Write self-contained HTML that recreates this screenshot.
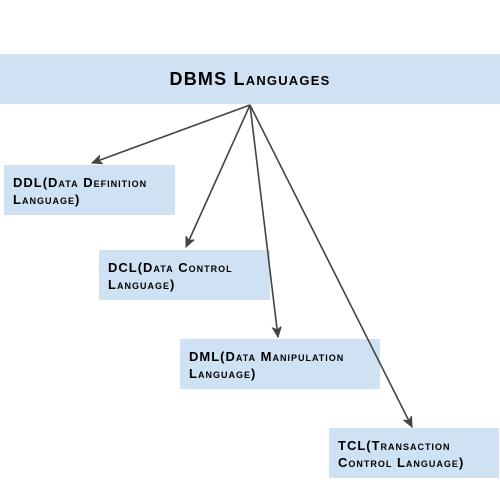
<!DOCTYPE html>
<html><head><style>
body{margin:0;width:500px;height:500px;background:#fff;position:relative;overflow:hidden;font-family:"Liberation Sans",sans-serif;}
.b{position:absolute;background:#cfe2f3;}
.t{position:absolute;font-weight:bold;font-variant:small-caps;color:#000;font-size:13px;line-height:17px;letter-spacing:1px;}
</style></head><body>
<div class="b" style="left:0;top:54px;width:500px;height:50px"></div>
<div class="t" style="left:0;width:500px;top:68px;text-align:center;font-size:18px;line-height:22px;letter-spacing:1.2px">DBMS Languages</div>
<div class="b" style="left:4px;top:165px;width:171px;height:50px"></div>
<div class="t" style="left:13px;top:174px">DDL(Data Definition<br>Language)</div>
<div class="b" style="left:99px;top:250px;width:171px;height:50px"></div>
<div class="t" style="left:108px;top:259px">DCL(Data Control<br>Language)</div>
<div class="b" style="left:180px;top:339px;width:200px;height:50px"></div>
<div class="t" style="left:189px;top:348px">DML(Data Manipulation<br>Language)</div>
<div class="b" style="left:329px;top:428px;width:170px;height:50px"></div>
<div class="t" style="left:338px;top:437px">TCL(Transaction<br>Control Language)</div>
<svg width="500" height="500" style="position:absolute;left:0;top:0">
<defs><marker id="a" markerWidth="12" markerHeight="12" refX="10" refY="6" orient="auto" markerUnits="userSpaceOnUse"><path d="M0,1.5 L10,6 L0,10.5 L3,6 Z" fill="#444" stroke="#444" stroke-width="1"/></marker></defs>
<g stroke="#444" stroke-width="1.6" fill="none" marker-end="url(#a)">
<line x1="250" y1="105" x2="92" y2="163"/>
<line x1="250" y1="105" x2="186" y2="247"/>
<line x1="250" y1="105" x2="278" y2="337"/>
<line x1="250" y1="105" x2="412" y2="427"/>
</g></svg>
</body></html>
